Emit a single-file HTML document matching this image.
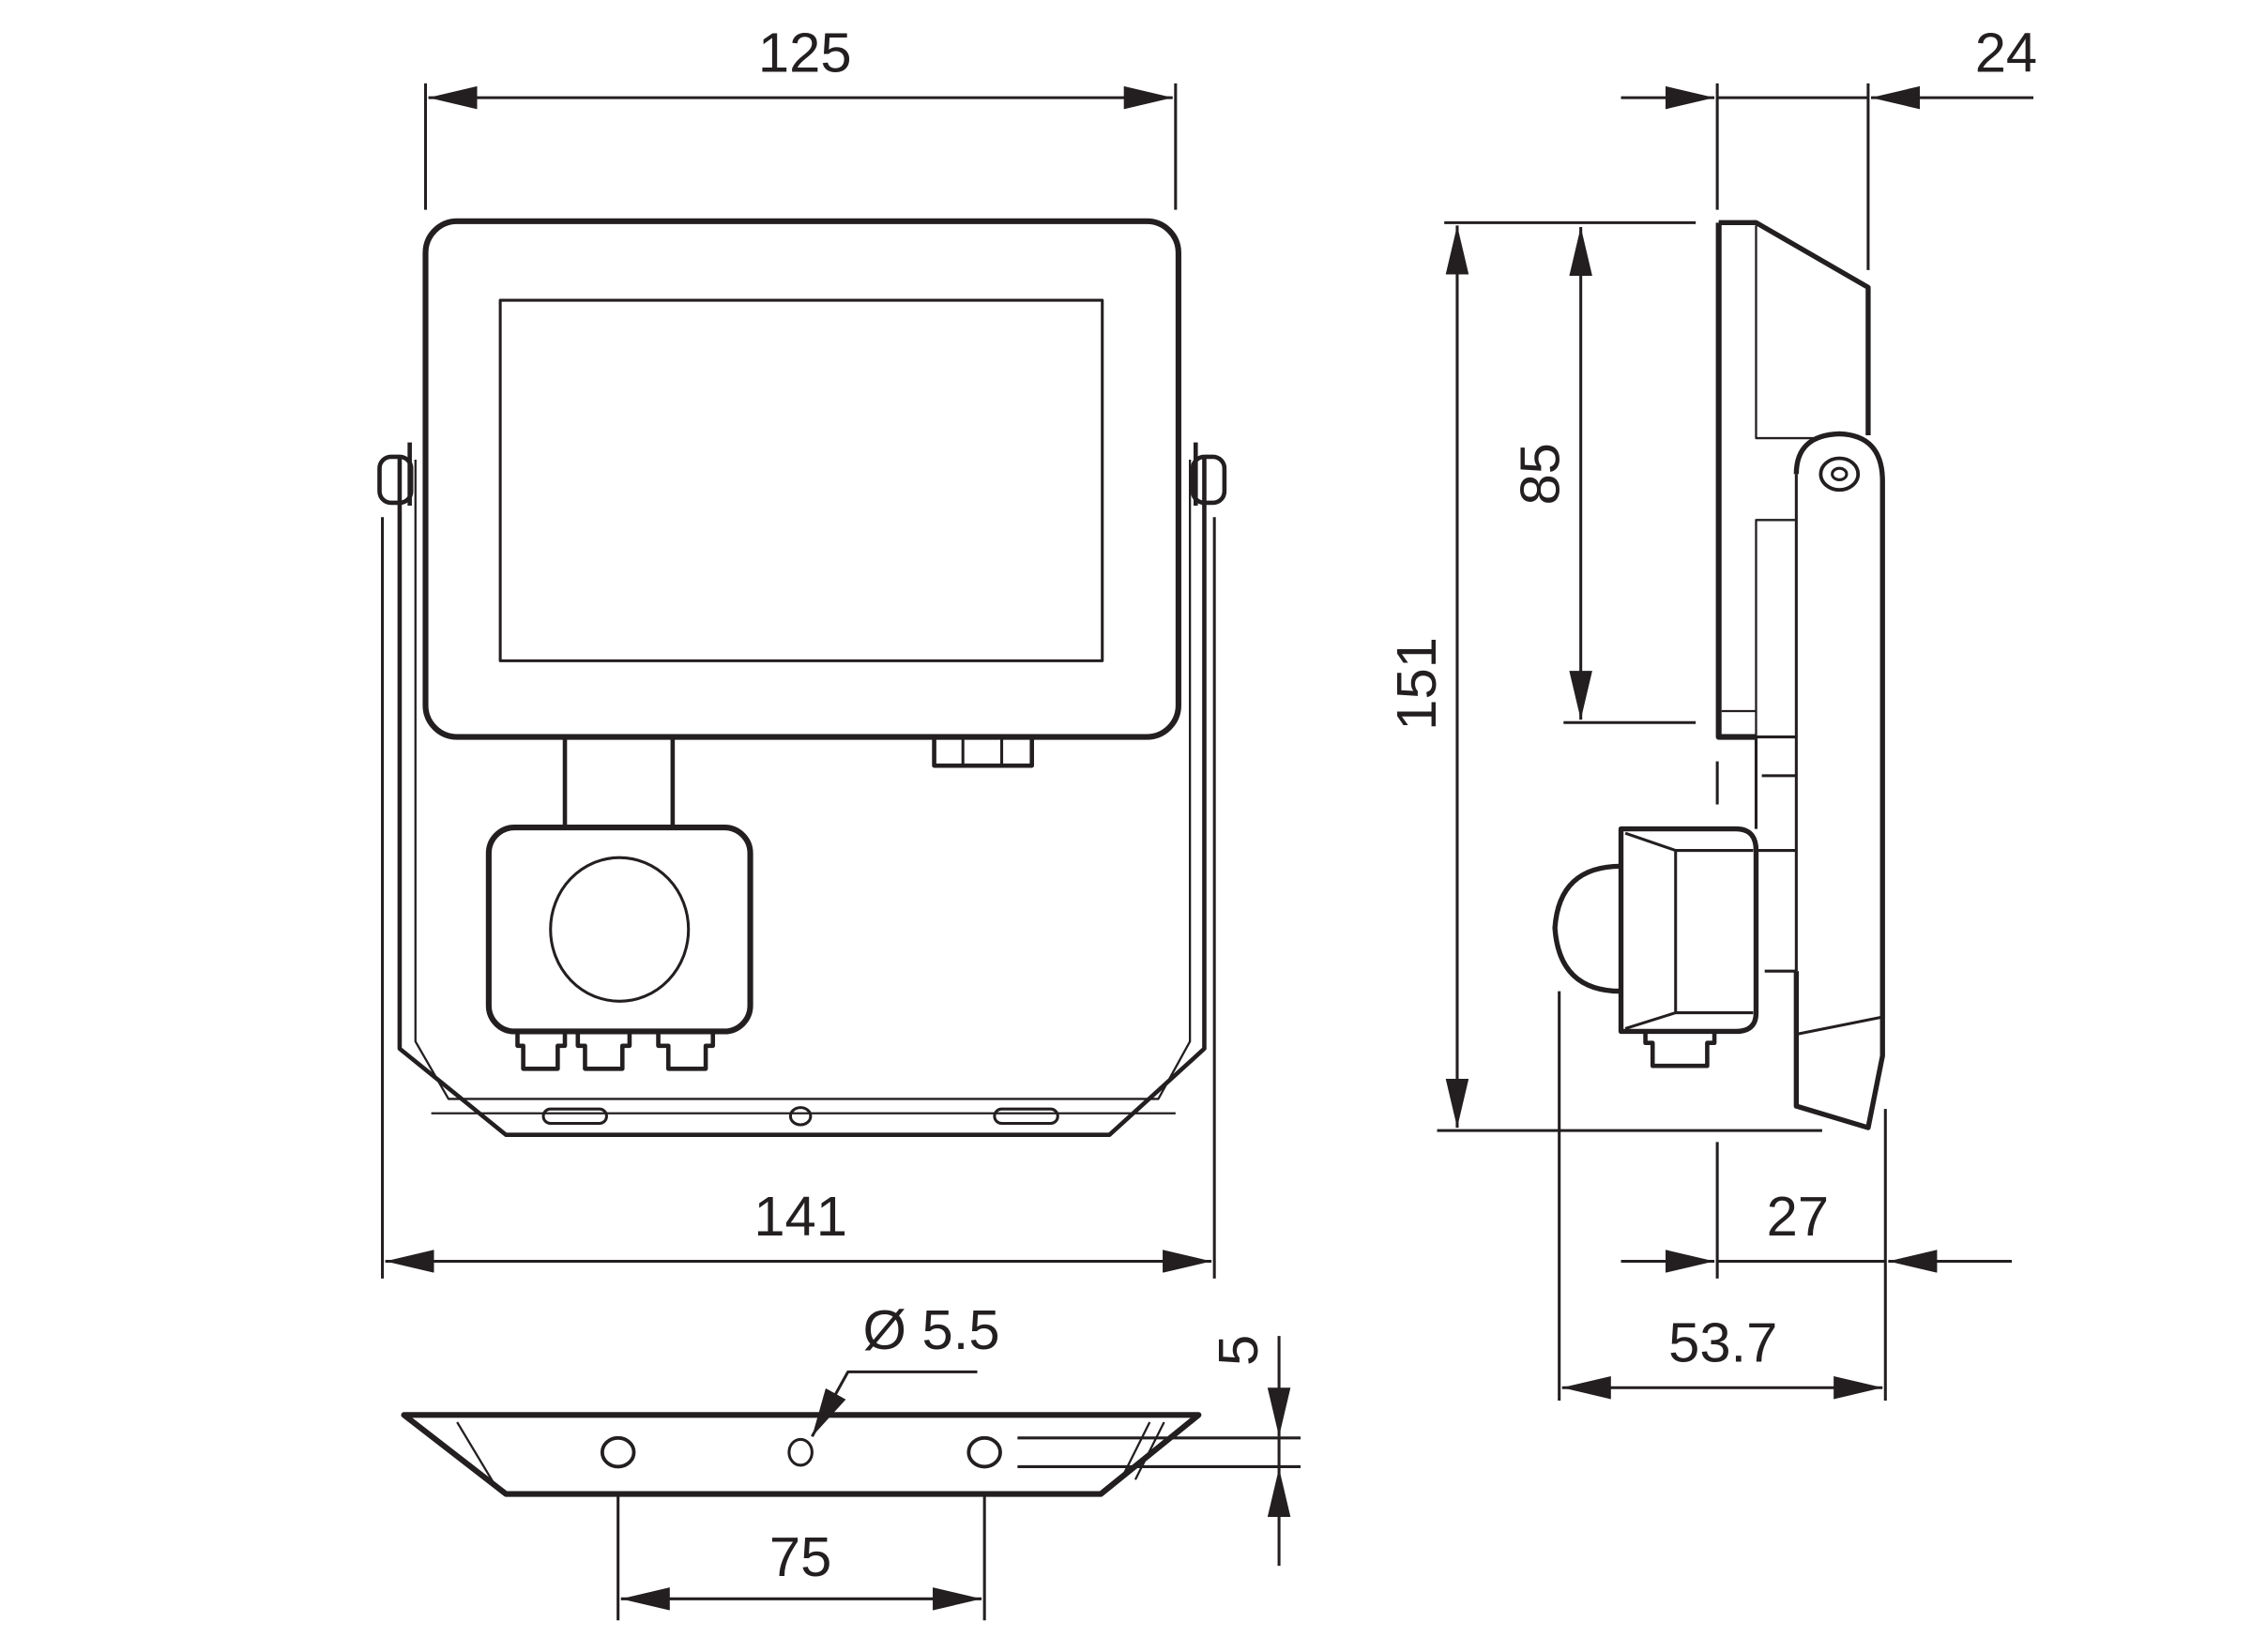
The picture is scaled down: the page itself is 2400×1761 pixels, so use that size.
<!DOCTYPE html>
<html><head><meta charset="utf-8"><style>
html,body{margin:0;padding:0;background:#fff;}
svg{display:block;}
text{font-family:"Liberation Sans",sans-serif;font-size:39px;fill:#231f20;}
</style></head><body>
<svg width="2400" height="1761" viewBox="0 0 1567 1150" xmlns="http://www.w3.org/2000/svg">
<defs>
<marker id="a" viewBox="0 0 34 16" refX="34" refY="8" markerWidth="34" markerHeight="16" markerUnits="userSpaceOnUse" orient="auto-start-reverse"><path d="M0,0 L34,8 L0,16z" fill="#231f20"/></marker>
</defs>
<g fill="none" stroke="#231f20" stroke-linejoin="round">
<!-- FRONT VIEW -->
<g stroke-width="2">
<line x1="296" y1="58" x2="296" y2="146"/><line x1="818" y1="58" x2="818" y2="146"/>
<line x1="298" y1="68" x2="816" y2="68" marker-start="url(#a)" marker-end="url(#a)"/>
<line x1="266" y1="360" x2="266" y2="890"/><line x1="845" y1="360" x2="845" y2="890"/>
<line x1="268" y1="878" x2="843" y2="878" marker-start="url(#a)" marker-end="url(#a)"/>
</g>
<rect x="296" y="154" width="524" height="359" rx="22" stroke-width="4"/>
<rect x="348" y="209" width="419" height="251" stroke-width="2"/>
<!-- bracket -->
<path d="M278,318 V730 L352,790 H772 L838,730 V318" stroke-width="3"/>
<path d="M289,320 V725 L312,765 H806 L828,725 V320" stroke-width="1.5"/>
<path d="M300,775 H818" stroke-width="1.5"/>
<rect x="264" y="318" width="22" height="32" rx="8" stroke-width="3"/>
<rect x="830" y="318" width="22" height="32" rx="8" stroke-width="3"/>
<line x1="285" y1="308" x2="285" y2="352" stroke-width="3"/>
<line x1="832" y1="308" x2="832" y2="352" stroke-width="3"/>
<rect x="378" y="772" width="44" height="10" rx="5" stroke-width="2"/>
<ellipse cx="557" cy="777" rx="7" ry="6" stroke-width="2"/>
<rect x="692" y="772" width="44" height="10" rx="5" stroke-width="2"/>
<!-- sensor -->
<path d="M393,513 V577 M468,513 V577" stroke-width="3"/>
<rect x="340" y="576" width="182" height="142" rx="18" stroke-width="4"/>
<ellipse cx="431" cy="647" rx="48" ry="50" stroke-width="2"/>
<path d="M360,718 h33 v10 h-5 v16 h-24 v-16 h-4z M402,718 h36 v10 h-5 v16 h-26 v-16 h-5z M458,718 h38 v10 h-5 v16 h-26 v-16 h-7z" stroke-width="3"/>
<rect x="650" y="513" width="68" height="20" stroke-width="3"/>
<path d="M670,513 V533 M697,513 V533" stroke-width="2"/>

<!-- SIDE VIEW dims -->
<g stroke-width="2">
<line x1="1195" y1="58" x2="1195" y2="146"/><line x1="1300" y1="58" x2="1300" y2="188"/>
<line x1="1128" y1="68" x2="1193" y2="68" marker-end="url(#a)"/>
<line x1="1415" y1="68" x2="1302" y2="68" marker-end="url(#a)"/>
<line x1="1195" y1="68" x2="1300" y2="68"/>
<line x1="1005" y1="155" x2="1180" y2="155"/>
<line x1="1000" y1="787" x2="1268" y2="787"/>
<line x1="1014" y1="157" x2="1014" y2="785" marker-start="url(#a)" marker-end="url(#a)"/>
<line x1="1100" y1="158" x2="1100" y2="501" marker-start="url(#a)" marker-end="url(#a)"/>
<line x1="1088" y1="503" x2="1180" y2="503"/>
<line x1="1195" y1="530" x2="1195" y2="560"/>
<line x1="1195" y1="795" x2="1195" y2="890"/>
<line x1="1312" y1="772" x2="1312" y2="975"/>
<line x1="1085" y1="690" x2="1085" y2="975"/>
<line x1="1128" y1="878" x2="1193" y2="878" marker-end="url(#a)"/>
<line x1="1400" y1="878" x2="1314" y2="878" marker-end="url(#a)"/>
<line x1="1195" y1="878" x2="1312" y2="878"/>
<line x1="1087" y1="966" x2="1310" y2="966" marker-start="url(#a)" marker-end="url(#a)"/>
</g>
<!-- side body -->
<path d="M1196,155 H1222 L1300,200 V303" stroke-width="3.5"/>
<path d="M1196,155 V513 H1222" stroke-width="4"/>
<path d="M1222,157 V305 H1262 M1222,378 V362 H1250 M1222,362 V513 M1198,495 H1222" stroke-width="1.5"/>
<path d="M1222,513 V577 M1222,513 H1250 M1226,540 H1250 M1222,592 H1250 M1228,676 H1250" stroke-width="2"/>
<path d="M1250,330 Q1250,303 1280,302 Q1310,303 1310,335 V735 L1300,785 L1250,770 V676" stroke-width="3.5"/>
<path d="M1250,330 V676 M1250,720 L1310,708" stroke-width="2"/>
<ellipse cx="1280" cy="330" rx="13" ry="11" stroke-width="2.5"/>
<ellipse cx="1280" cy="330" rx="5" ry="4" stroke-width="2"/>
<path d="M1128,577 H1208 Q1222,577 1222,592 V705 Q1222,718 1208,718 H1128 Z" stroke-width="3.5"/>
<path d="M1131,580 L1166,592 H1220 M1131,716 L1166,705 H1220 M1166,592 V705" stroke-width="2"/>
<path d="M1128,603 Q1085,603 1082,646 Q1085,690 1128,690" stroke-width="3.5"/>
<path d="M1145,718 V726 H1150 V742 H1188 V726 H1193 V718" stroke-width="3"/>

<!-- BOTTOM VIEW -->
<path d="M281,985 H834 L766,1040 H352 Z" stroke-width="4"/>
<path d="M318,990 L345,1035 M810,990 L790,1030 M800,990 L780,1030" stroke-width="1.5"/>
<ellipse cx="430" cy="1011" rx="11" ry="10" stroke-width="2.5"/>
<ellipse cx="557" cy="1011" rx="8" ry="9" stroke-width="2"/>
<ellipse cx="685" cy="1011" rx="11" ry="10" stroke-width="2.5"/>
<g stroke-width="2">
<path d="M680,955 H590 L565,1000" marker-end="url(#a)"/>
<line x1="708" y1="1001" x2="905" y2="1001"/>
<line x1="708" y1="1021" x2="905" y2="1021"/>
<line x1="890" y1="930" x2="890" y2="1000" marker-end="url(#a)"/>
<line x1="890" y1="1090" x2="890" y2="1022" marker-end="url(#a)"/>
<line x1="890" y1="1000" x2="890" y2="1022"/>
<line x1="430" y1="1040" x2="430" y2="1128"/>
<line x1="685" y1="1040" x2="685" y2="1128"/>
<line x1="432" y1="1113" x2="683" y2="1113" marker-start="url(#a)" marker-end="url(#a)"/>
</g>
</g>
<g>
<text x="560" y="50" text-anchor="middle">125</text>
<text x="557" y="860" text-anchor="middle">141</text>
<text x="1396" y="50" text-anchor="middle">24</text>
<text x="1251" y="860" text-anchor="middle">27</text>
<text x="1199" y="948" text-anchor="middle">53.7</text>
<text x="557" y="1097" text-anchor="middle">75</text>
<text x="648" y="939" text-anchor="middle">Ø 5.5</text>
<text transform="translate(999,476) rotate(-90)" text-anchor="middle">151</text>
<text transform="translate(1085,330) rotate(-90)" text-anchor="middle">85</text>
<text transform="translate(875,940) rotate(-90)" text-anchor="middle">5</text>
</g>
</svg>
</body></html>
